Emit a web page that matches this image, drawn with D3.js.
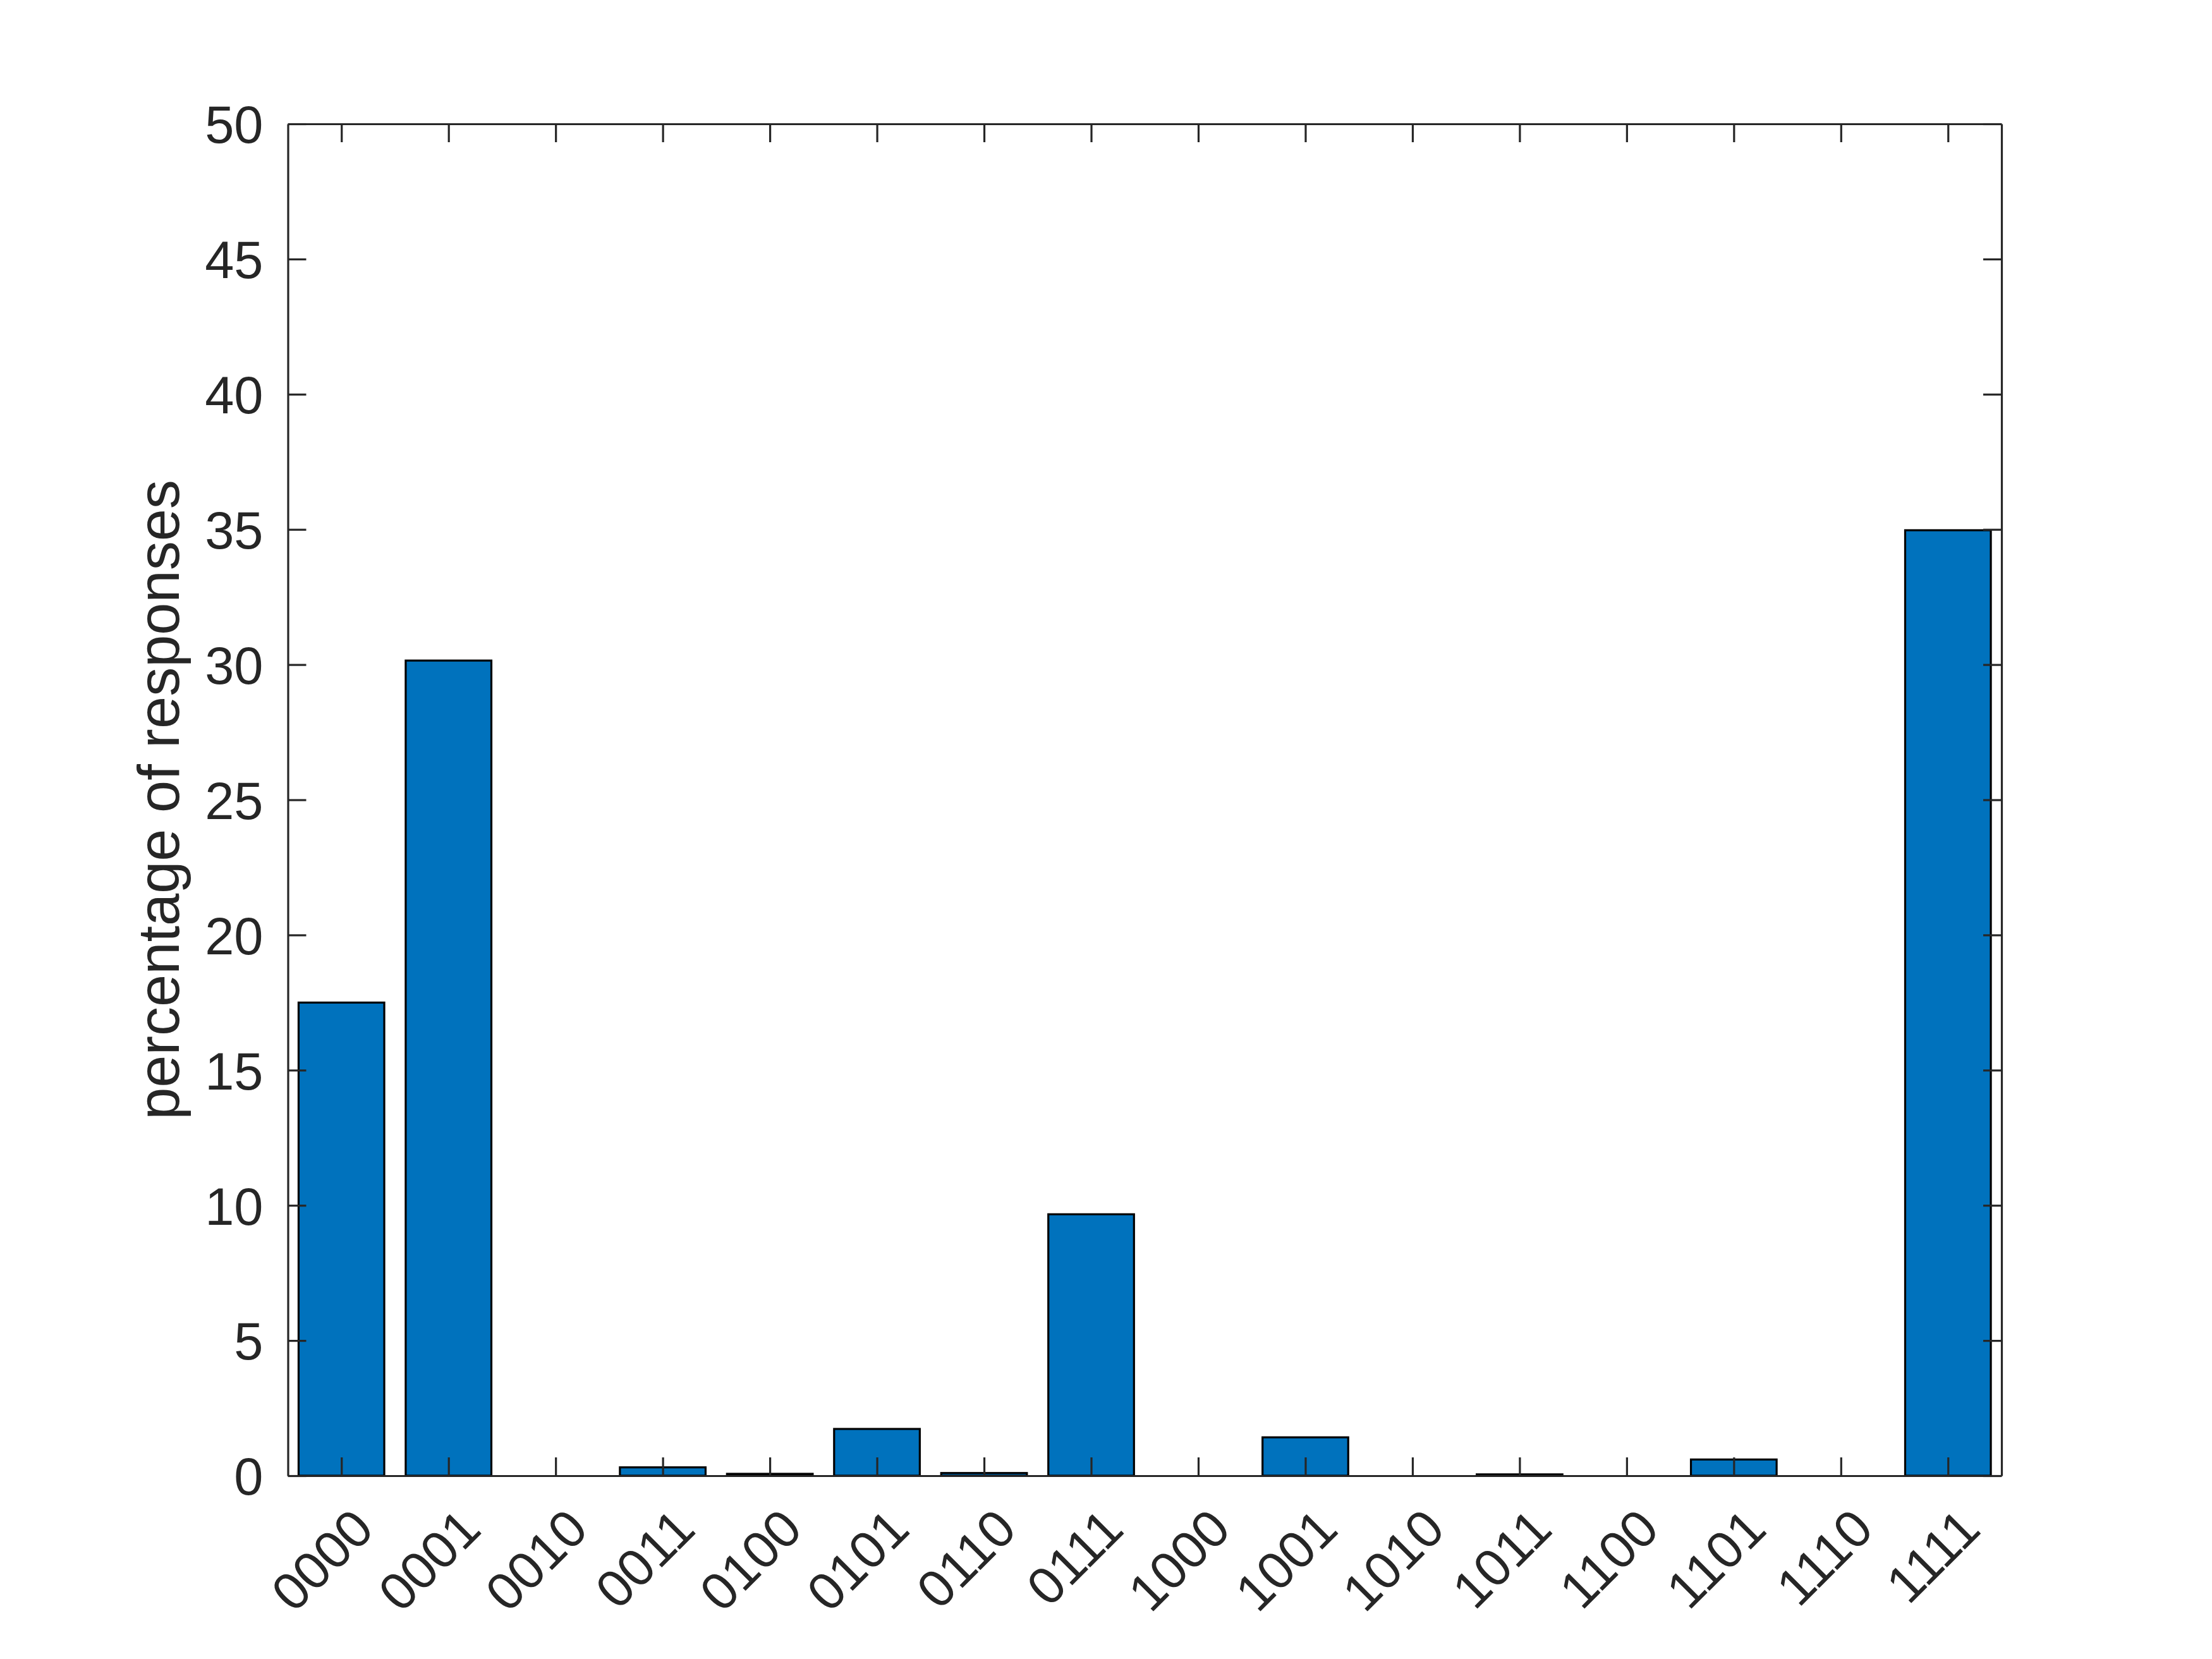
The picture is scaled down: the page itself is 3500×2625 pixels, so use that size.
<!DOCTYPE html>
<html>
<head>
<meta charset="utf-8">
<script src="https://cdn.jsdelivr.net/npm/d3@7"></script>
<style>
    body { margin: 0; background: #ffffff; }
    text { font-family: "Liberation Sans", Arial, Helvetica, sans-serif; fill: #262626; }
</style>
</head>
<body>
<div id="chart"></div>
<script>
// response patterns and their share (%)
var categories = ['0000', '0001', '0010', '0011', '0100', '0101', '0110', '0111',
    '1000', '1001', '1010', '1011', '1100', '1101', '1110', '1111'];
var percentages = [17.5, 30.15, 0, 0.31, 0.07, 1.73, 0.1, 9.67,
    0, 1.42, 0, 0.05, 0, 0.6, 0, 34.97];
var yTicks = [0, 5, 10, 15, 20, 25, 30, 35, 40, 45, 50];

var svgWidth = 3500;
var svgHeight = 2625;

var margin = {
    top: 196,
    right: 333,
    bottom: 290,
    left: 455.5
};

var width = svgWidth - margin.left - margin.right;
var height = svgHeight - margin.top - margin.bottom;

var svg = d3.select('#chart')
    .append('svg')
    .attr('width', svgWidth)
    .attr('height', svgHeight);

svg.append('rect')
    .attr('width', svgWidth)
    .attr('height', svgHeight)
    .attr('fill', '#ffffff');

var chartGroup = svg.append('g')
    .attr('transform', `translate(${margin.left}, ${margin.top})`);

// x positions 1..16, matlab style limits
var xScale = d3.scaleLinear()
    .domain([0.5, categories.length + 0.5])
    .range([0, width]);

var yScale = d3.scaleLinear()
    .domain([0, 50])
    .range([height, 0]);

var barWidth = xScale(1.8) - xScale(1);

// bars
chartGroup.selectAll('.bar')
    .data(percentages)
    .enter()
    .append('rect')
    .classed('bar', true)
    .attr('x', (d, i) => xScale(i + 1) - barWidth / 2)
    .attr('y', d => yScale(d))
    .attr('width', barWidth)
    .attr('height', d => yScale(0) - yScale(d))
    .attr('fill', '#0072BD')
    .attr('stroke', '#000000')
    .attr('stroke-width', 3.2);

var tickLen = 29;
var axisColor = '#262626';
var fontSize = 83;

// bottom axis
var bottomAxis = d3.axisBottom(xScale)
    .tickValues(d3.range(1, categories.length + 1))
    .tickFormat(d => categories[d - 1])
    .tickSizeInner(-tickLen)
    .tickSizeOuter(0);

var xAxis = chartGroup.append('g')
    .attr('transform', `translate(0, ${height})`)
    .call(bottomAxis);

xAxis.selectAll('text')
    .attr('font-size', fontSize)
    .attr('text-anchor', 'end')
    .attr('dominant-baseline', 'middle')
    .attr('y', 0)
    .attr('dy', 0)
    .attr('transform', 'translate(39, 73) rotate(-45)');

// top axis (ticks only)
var topAxis = d3.axisTop(xScale)
    .tickValues(d3.range(1, categories.length + 1))
    .tickFormat('')
    .tickSizeInner(-tickLen)
    .tickSizeOuter(0);

var xAxisTop = chartGroup.append('g')
    .call(topAxis);

// left axis
var leftAxis = d3.axisLeft(yScale)
    .tickValues(yTicks)
    .tickFormat(d3.format('d'))
    .tickSizeInner(-tickLen)
    .tickSizeOuter(0)
    .tickPadding(39);

var yAxis = chartGroup.append('g')
    .call(leftAxis);

yAxis.selectAll('text')
    .attr('font-size', fontSize)
    .attr('dy', '0.36em');

// right axis (ticks only)
var rightAxis = d3.axisRight(yScale)
    .tickValues(yTicks)
    .tickFormat('')
    .tickSizeInner(-tickLen)
    .tickSizeOuter(0);

var yAxisRight = chartGroup.append('g')
    .attr('transform', `translate(${width}, 0)`)
    .call(rightAxis);

[xAxis, xAxisTop, yAxis, yAxisRight].forEach(function (ax) {
    ax.attr('font-family', null);
    ax.select('.domain').attr('stroke', axisColor).attr('stroke-width', 3.2);
    ax.selectAll('.tick line').attr('stroke', axisColor).attr('stroke-width', 3.2);
});
xAxis.selectAll('text').attr('fill', axisColor);
yAxis.selectAll('text').attr('fill', axisColor);

// y axis label
chartGroup.append('text')
    .attr('transform', `translate(${283 - margin.left}, ${height / 2}) rotate(-90)`)
    .attr('text-anchor', 'middle')
    .attr('font-size', 92)
    .attr('fill', axisColor)
    .text('percentage of responses');
</script>
</body>
</html>
